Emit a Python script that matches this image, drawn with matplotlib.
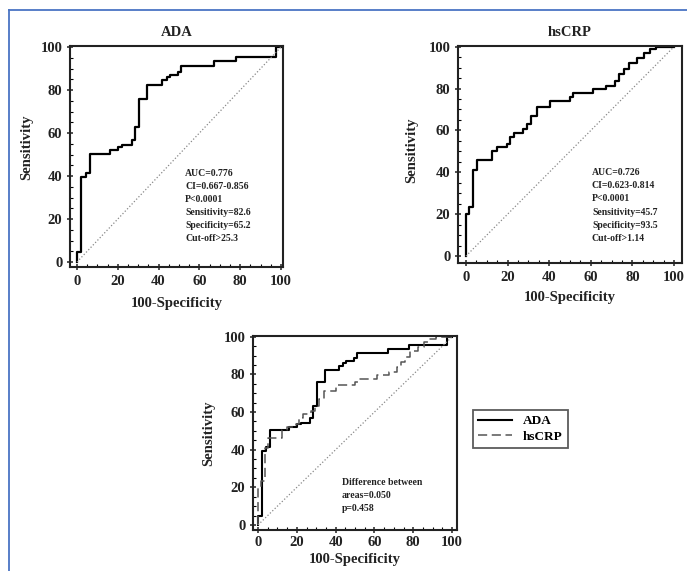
import matplotlib
matplotlib.use('Agg')
import matplotlib.pyplot as plt
from matplotlib.lines import Line2D
from matplotlib.ticker import MultipleLocator

# ROC staircase vertices (100-Specificity, Sensitivity)
ada_fpr = [0, 0, 1.8, 1.8, 4.3, 4.3, 6.2, 6.2, 16, 16, 20, 20, 22, 22, 27, 27,
           28.3, 28.3, 30.3, 30.3, 34.5, 34.5, 41.5, 41.5, 44, 44, 45.5, 45.5,
           49.5, 49.5, 51, 51, 67, 67, 78, 78, 97.5, 97.5, 100]
ada_tpr = [0, 4.5, 4.5, 39.5, 39.5, 41.3, 41.3, 50.5, 50.5, 52.2, 52.2, 53.5,
           53.5, 54.3, 54.3, 57, 57, 63, 63, 76, 76, 82.6, 82.6, 84.5, 84.5, 86,
           86, 87, 87, 88.5, 88.5, 91.3, 91.3, 93.5, 93.5, 95.6, 95.6, 100, 100]

crp_fpr = [0, 0, 1.6, 1.6, 3.5, 3.5, 5.1, 5.1, 12.3, 12.3, 14.7, 14.7, 19.5,
           19.5, 21.1, 21.1, 23, 23, 27.2, 27.2, 29.1, 29.1, 31.5, 31.5, 34.2,
           34.2, 40.3, 40.3, 50, 50, 51.5, 51.5, 61.1, 61.1, 67.5, 67.5, 71.5,
           71.5, 73.6, 73.6, 75.8, 75.8, 78.4, 78.4, 82.4, 82.4, 85.6, 85.6,
           88.3, 88.3, 91.5, 91.5, 100]
crp_tpr = [0, 20.3, 20.3, 23.5, 23.5, 40.9, 40.9, 46.1, 46.1, 50.4, 50.4, 52,
           52, 53.6, 53.6, 56.7, 56.7, 58.8, 58.8, 60.7, 60.7, 63.1, 63.1, 67,
           67, 71, 71, 74.2, 74.2, 76, 76, 77.8, 77.8, 79.7, 79.7, 81.3, 81.3,
           83.7, 83.7, 86.8, 86.8, 89.5, 89.5, 92.4, 92.4, 94.8, 94.8, 97.1,
           97.1, 98.7, 98.7, 100, 100]

ada_stats = ['AUC=0.776', 'CI=0.667-0.856', 'P<0.0001', 'Sensitivity=82.6',
             'Specificity=65.2', 'Cut-off>25.3']
crp_stats = ['AUC=0.726', 'CI=0.623-0.814', 'P<0.0001', 'Sensitivity=45.7',
             'Specificity=93.5', 'Cut-off>1.14']
cmp_stats = ['Difference between', 'areas=0.050', 'p=0.458']

plt.rcParams['font.family'] = ['Liberation Serif', 'DejaVu Serif']
plt.rcParams['font.weight'] = 'bold'

fig = plt.figure(figsize=(6.87, 5.71), dpi=100)

# blue page frame
fig.add_artist(Line2D([0.013, 1.0], [0.982, 0.982], color='#4a74c4', lw=1.3))
fig.add_artist(Line2D([0.013, 0.013], [0.0, 0.982], color='#4a74c4', lw=1.3))


def setup(ax, xlim, ylim, ylab_pos, xlab_y, tpad=3):
    ax.plot([0, 100], [0, 100], ls=':', color='#888888', lw=0.9)
    ax.set_xlim(*xlim)
    ax.set_ylim(*ylim)
    ax.xaxis.set_major_locator(MultipleLocator(20))
    ax.yaxis.set_major_locator(MultipleLocator(20))
    ax.xaxis.set_minor_locator(MultipleLocator(5))
    ax.yaxis.set_minor_locator(MultipleLocator(5))
    ax.tick_params(which='major', direction='inout', length=5, width=1.1,
                   labelsize=10.5, pad=3, colors='#222222')
    ax.tick_params(axis='x', which='major', pad=tpad)
    ax.tick_params(which='minor', direction='in', length=2.5, width=0.8)
    for s in ax.spines.values():
        s.set_linewidth(1.5)
        s.set_color('#222222')
    ax.set_ylabel('Sensitivity', fontsize=10.5, fontweight='bold', color='#222222')
    ax.set_xlabel('100-Specificity', fontsize=10.5, fontweight='bold', color='#222222')
    ax.yaxis.set_label_coords(*ylab_pos)
    ax.xaxis.set_label_coords(0.5, xlab_y)


def stats_text(ax, lines, x, y, dy):
    for i, t in enumerate(lines):
        ax.text(x, y - i * dy, t, transform=ax.transAxes, fontsize=7,
                fontweight='bold', va='center', ha='left', color='#222222')


# ADA panel
ax1 = fig.add_axes([0.1019, 0.5324, 0.310, 0.387])
ax1.plot(ada_fpr, ada_tpr, color='black', lw=1.6)
setup(ax1, (-3.4, 101), (-2.3, 100.5), (-0.174, 0.54), -0.135)
ax1.set_title('ADA', fontsize=10.5, fontweight='bold', pad=7, color='#222222')
stats_text(ax1, ada_stats, 0.54, 0.425, 0.0588)

# hsCRP panel
ax2 = fig.add_axes([0.6667, 0.5394, 0.326, 0.380])
ax2.plot(crp_fpr, crp_tpr, color='black', lw=1.6)
setup(ax2, (-3.8, 103.8), (-3.3, 100.3), (-0.179, 0.52), -0.129)
ax2.set_title('hsCRP', fontsize=10.5, fontweight='bold', pad=7, color='#222222')
stats_text(ax2, crp_stats, 0.598, 0.415, 0.060)

# comparison panel
ax3 = fig.add_axes([0.3683, 0.0718, 0.297, 0.340])
l1, = ax3.plot(ada_fpr, ada_tpr, color='black', lw=1.5, label='ADA')
l2, = ax3.plot(crp_fpr, crp_tpr, color='#555555', lw=1.1, ls=(0, (6, 3)),
               label='hsCRP')
setup(ax3, (-2.6, 102.6), (-2.7, 100.5), (-0.186, 0.5), -0.118, tpad=2)
stats_text(ax3, cmp_stats, 0.436, 0.247, 0.067)

leg = fig.legend(handles=[l1, l2], loc='upper left',
                 bbox_to_anchor=(0.688, 0.282), fontsize=9.5, frameon=True,
                 fancybox=False, edgecolor='#333333', handlelength=2.6,
                 borderpad=0.4, labelspacing=0.25, borderaxespad=0)
leg.get_frame().set_linewidth(1.3)

fig.savefig('out.png', dpi=100)
